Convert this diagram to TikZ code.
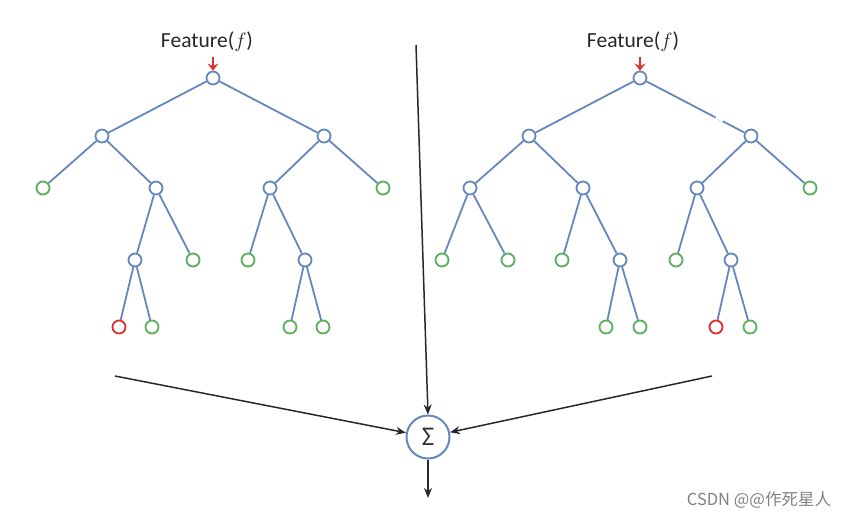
\documentclass[tikz,border=0pt]{standalone}
\usepackage{fontspec}
\setmainfont{Carlito}
\newfontfamily\cjkfont{Noto Sans CJK SC}
\usetikzlibrary{arrows.meta}
\definecolor{edgeblue}{RGB}{100,135,190}
\definecolor{leafgreen}{RGB}{90,175,90}
\definecolor{leafred}{RGB}{225,45,45}
\definecolor{arrowgray}{RGB}{40,40,40}
\tikzset{
  inner/.style={circle,draw=edgeblue,line width=1.8pt,minimum size=13pt,inner sep=0pt,fill=white},
  gleaf/.style={circle,draw=leafgreen,line width=1.8pt,minimum size=13pt,inner sep=0pt,fill=white},
  rleaf/.style={circle,draw=leafred,line width=1.8pt,minimum size=13pt,inner sep=0pt,fill=white},
  edge/.style={draw=edgeblue,line width=1.8pt},
  bigarrow/.style={draw=arrowgray,line width=1.5pt,-{Stealth[length=10pt,width=8pt]}},
  featlabel/.style={font=\fontsize{21.5}{24}\selectfont,text=black!85,inner sep=0pt},
  featarrow/.style={draw=leafred,line width=2.6pt,-{Stealth[length=7pt,width=11pt,inset=2.5pt]}},
}
\begin{document}
\begin{tikzpicture}[x=1pt,y=-1pt]
\useasboundingbox (0,0) rectangle (856,520);
% ---------- left tree ----------
\node[inner] (a) at (213,78) {};
\node[inner] (b) at (102,136) {};
\node[inner] (c) at (324,136) {};
\node[gleaf] (b1) at (43,188) {};
\node[inner] (d) at (156,188) {};
\node[inner] (e) at (135,260) {};
\node[gleaf] (d2) at (193,260) {};
\node[rleaf] (e1) at (119,327) {};
\node[gleaf] (e2) at (152,327) {};
\node[inner] (f) at (270,188) {};
\node[gleaf] (c2) at (383,188) {};
\node[gleaf] (f1) at (248,260) {};
\node[inner] (g) at (305,260) {};
\node[gleaf] (g1) at (290,327) {};
\node[gleaf] (g2) at (323,327) {};
\draw[edge] (a)--(b) (a)--(c) (b)--(b1) (b)--(d) (d)--(e) (d)--(d2)
  (e)--(e1) (e)--(e2) (c)--(f) (c)--(c2) (f)--(f1) (f)--(g) (g)--(g1) (g)--(g2);
% ---------- right tree ----------
\node[inner] (ra) at (640,78) {};
\node[inner] (h) at (529,136) {};
\node[inner] (i) at (751,136) {};
\node[inner] (j) at (470,188) {};
\node[inner] (k) at (583,188) {};
\node[gleaf] (j1) at (442,260) {};
\node[gleaf] (j2) at (508,260) {};
\node[gleaf] (k1) at (562,260) {};
\node[inner] (l) at (620,260) {};
\node[gleaf] (l1) at (606,327) {};
\node[gleaf] (l2) at (640,327) {};
\node[inner] (m) at (697,188) {};
\node[gleaf] (i2) at (810,188) {};
\node[gleaf] (m1) at (676,260) {};
\node[inner] (n) at (731,260) {};
\node[rleaf] (n1) at (716,327) {};
\node[gleaf] (n2) at (750,327) {};
\draw[edge] (ra)--(h) (ra)--(i) (h)--(j) (h)--(k) (j)--(j1) (j)--(j2)
  (k)--(k1) (k)--(l) (l)--(l1) (l)--(l2) (i)--(m) (i)--(i2) (m)--(m1) (m)--(n) (n)--(n1) (n)--(n2);
\coordinate (gapa) at (716,117);
\coordinate (gapb) at (723,120.5);
\draw[white,line width=3pt] (gapa)--(gapb);
% ---------- feature labels ----------
\node[featlabel] (fl) at (207,42) {Feature($f$)};
\node[featlabel] (fr) at (633,42) {Feature($f$)};
\coordinate (fla) at (213,57);
\coordinate (fra) at (640,57);
\draw[featarrow] (fla) -- (a);
\draw[featarrow] (fra) -- (ra);
% ---------- sum ----------
\node[circle,draw=edgeblue,line width=2pt,minimum size=43pt,inner sep=0pt,fill=white,font=\fontsize{27}{29}\selectfont,text=black!80] (s) at (428,437) {Σ};
\coordinate (pl) at (115,376);
\coordinate (pr) at (712,376);
\coordinate (pt) at (416,45);
\coordinate (pb) at (428,498);
\draw[bigarrow] (pl) -- (s);
\draw[bigarrow] (pr) -- (s);
\draw[bigarrow] (pt) -- (s.north);
\draw[bigarrow] (s) -- (pb);
% ---------- watermark ----------
\node[font=\cjkfont\fontsize{16.5}{18}\selectfont,text=black!50,inner sep=0pt] (wm) at (759,500) {CSDN @@作死星人};
\end{tikzpicture}
\end{document}
